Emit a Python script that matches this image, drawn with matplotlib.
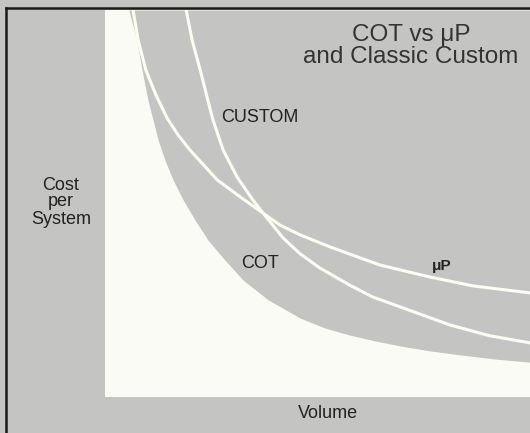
import matplotlib.pyplot as plt
from matplotlib.lines import Line2D

# volume (0-100) vs cost per system (0-100)
cot_vol = [5.6, 7.5, 8.7, 10.1, 11.3, 12.5, 14.1, 16.0, 18.4, 21.2, 24.2, 28.2, 32.5,
           38.4, 45.9, 51.8, 57.6, 63.5, 69.4, 76.5, 83.5, 91.8, 100]
cot_cost = [100, 92.2, 84.5, 76.7, 71.6, 66.4, 61.2, 56.1, 50.9, 45.7, 40.6, 35.4, 30.2,
            25.1, 20.4, 17.8, 16.0, 14.5, 13.2, 11.9, 10.9, 9.8, 9.0]

up_vol = [6.6, 7.8, 9.6, 12.0, 14.6, 17.2, 20.0, 26.4, 31.8, 37.2, 41.2, 45.9, 52.9,
          64.7, 76.5, 86.6, 100]
up_cost = [100, 92.2, 84.5, 78.0, 72.1, 67.7, 63.8, 56.1, 51.7, 47.5, 44.4, 41.9, 38.8,
           34.1, 31.0, 28.7, 26.9]

custom_vol = [19.1, 20.5, 22.4, 24.2, 25.4, 27.8, 31.1, 34.8, 37.2, 41.9, 45.9, 50.6,
              57.6, 63.1, 69.4, 81.2, 90.6, 100]
custom_cost = [100, 92.2, 84.5, 76.7, 71.6, 63.8, 56.8, 50.9, 47.5, 41.1, 37.0, 33.3,
               28.9, 25.8, 23.3, 18.6, 15.8, 14.0]

gray = '#c4c4c2'
white = '#fbfbf6'
line_col = '#fdfdf2'
font = ['Liberation Sans', 'DejaVu Sans']

fig = plt.figure(figsize=(5.3, 4.33), dpi=100)
fig.patch.set_facecolor(gray)

# plot area in pixel terms: x 105..530, y 10..397
ax = fig.add_axes([105/530, 36/433, 425/530, 387/433])
ax.set_facecolor(white)
ax.set_xlim(0, 100)
ax.set_ylim(0, 100)
ax.axis('off')
ax.add_patch(plt.Rectangle((0, 0), 100, 100, color=white, zorder=0))

# COT band: everything above the lower bound is shaded
ax.fill_between(cot_vol, cot_cost, 100, color=gray, lw=0, zorder=1)

ax.plot(up_vol, up_cost, color=line_col, lw=2.2, zorder=2, solid_joinstyle='round')
ax.plot(custom_vol, custom_cost, color=line_col, lw=2.2, zorder=2, solid_joinstyle='round')

ax.text(36.4, 72.2, 'CUSTOM', ha='center', va='center', fontsize=13,
        family=font, color='#222222')
ax.text(36.4, 34.4, 'COT', ha='center', va='center', fontsize=13,
        family=font, color='#222222')
ax.text(79.3, 33.9, '\u03bcP', ha='center', va='center', fontsize=11,
        family=font, fontweight='bold', color='#222222')

# labels and title live outside / on top of the plot area
fig.text(411/530, 1 - 46/433, 'COT vs \u03bcP\nand Classic Custom', ha='center',
         va='center', fontsize=17.5, family=font, color='#333333',
         linespacing=1.0)
fig.text(61/530, 1 - 202/433, 'Cost\nper\nSystem', ha='center', va='center',
         fontsize=13, family=font, color='#222222', linespacing=1.0)
fig.text(328/530, 1 - 413/433, 'Volume', ha='center', va='center',
         fontsize=13, family=font, color='#222222')

# scanned frame: top and left edges
fig.add_artist(Line2D([6/530, 1], [1 - 8/433, 1 - 8/433], color='#1a1a1a', lw=1.8))
fig.add_artist(Line2D([6/530, 6/530], [0, 1 - 8/433], color='#1a1a1a', lw=1.8))

fig.savefig('out.png', dpi=100, facecolor=fig.get_facecolor())
